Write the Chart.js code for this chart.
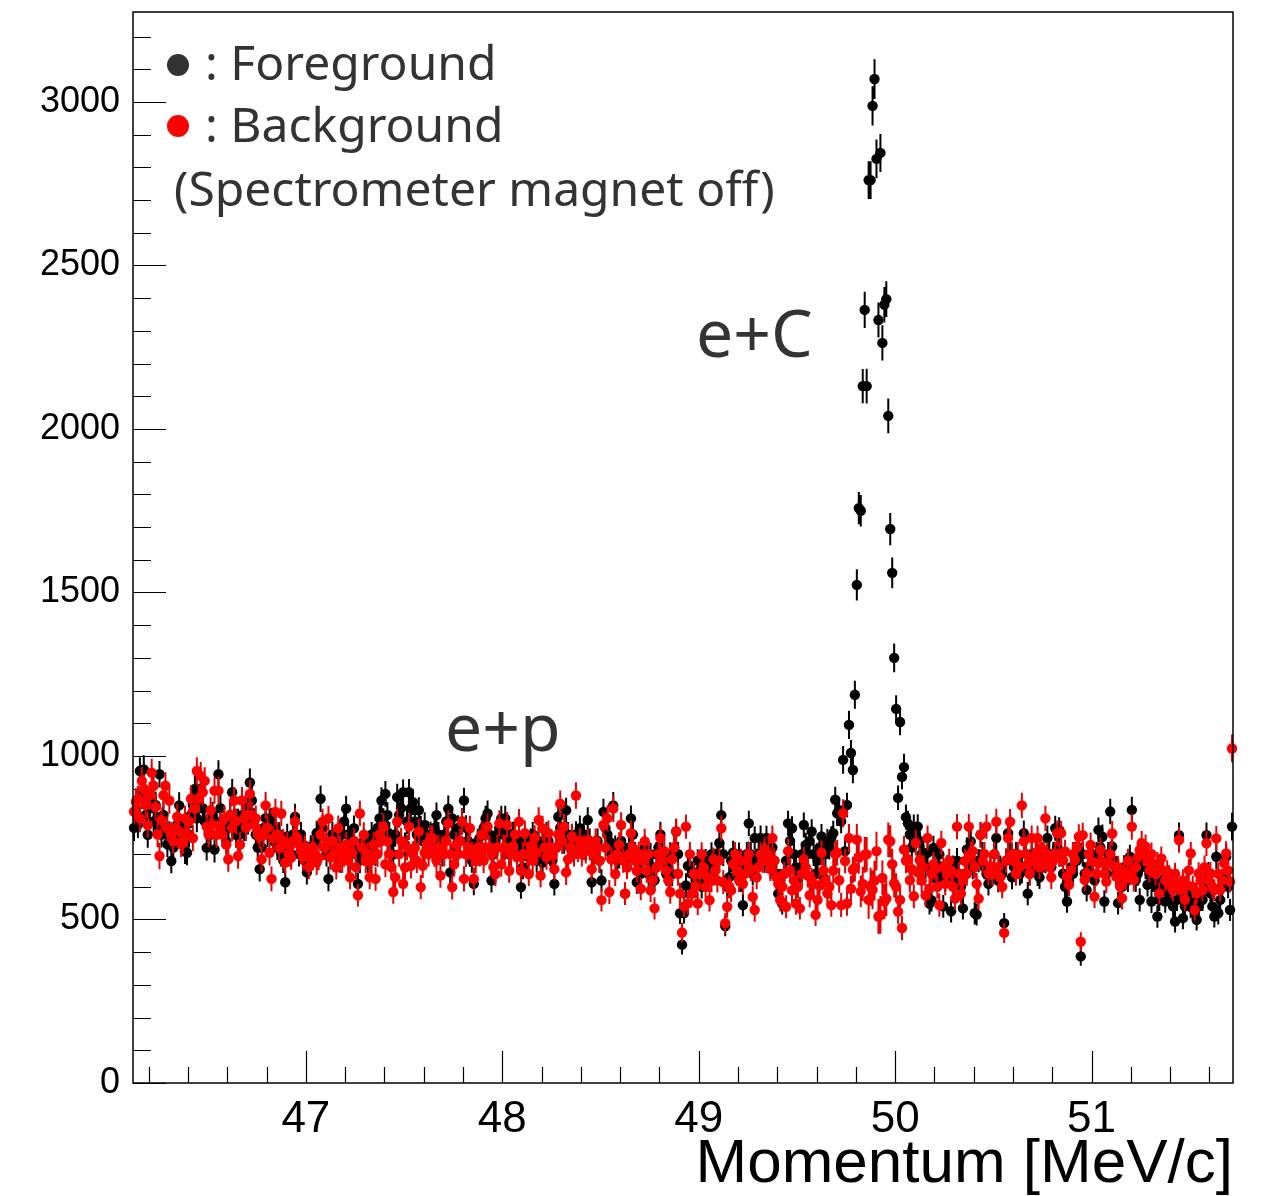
<!DOCTYPE html>
<html>
<head>
<meta charset="utf-8">
<script src="https://cdn.jsdelivr.net/npm/chart.js@4.4.1/dist/chart.umd.min.js"></script>
<style>
  html, body { margin: 0; padding: 0; background: #fff; }
  canvas { display: block; }
</style>
</head>
<body>
<canvas id="momentumChart" width="1264" height="1196"></canvas>
<script>
// histogram binning: 560 bins of 0.01 MeV/c from 46.12 to 51.72
const binLow = 46.12;
const binWidth = 0.01;

// counts per bin, spectrometer magnet off, target in (foreground)
const fgCounts = [
  780,830,790,954,880,959,820,759,840,869,
  800,850,789,944,760,820,780,730,760,679,
  720,760,790,849,780,760,709,704,760,820,
  850,899,809,860,900,840,800,719,780,760,
  820,714,800,944,840,780,760,740,780,820,
  889,800,759,800,760,820,780,840,800,919,
  864,800,760,720,654,720,780,810,760,800,
  804,740,780,720,760,700,680,614,754,720,
  700,760,814,740,700,760,720,680,644,700,
  720,690,740,764,760,869,780,720,700,624,
  700,760,740,700,720,680,760,800,839,760,
  700,740,779,700,609,680,720,740,700,680,
  720,760,740,700,780,809,864,800,884,820,
  760,740,699,760,874,820,840,889,729,800,
  889,840,859,800,760,834,780,740,789,760,
  720,760,740,780,819,760,720,700,760,800,
  839,644,809,760,720,780,740,800,864,780,
  740,700,680,609,720,739,700,760,780,809,
  824,760,619,700,740,760,780,809,760,809,
  760,700,740,760,720,700,740,599,660,720,
  694,700,740,760,720,680,740,700,674,720,
  760,740,700,680,609,720,814,780,760,740,
  834,760,720,740,700,760,740,779,740,760,
  720,804,740,614,700,720,740,680,619,829,
  780,760,739,700,849,720,680,694,740,700,
  579,660,720,809,760,700,614,680,640,700,
  720,680,640,699,660,620,700,720,760,700,
  680,639,660,700,639,720,769,700,519,423,
  520,604,664,664,640,600,620,680,650,600,
  640,680,620,660,700,640,680,700,734,819,
  700,480,600,629,680,704,660,640,699,620,
  544,660,700,794,700,640,749,680,700,749,
  700,680,749,700,660,720,680,640,579,620,
  549,640,680,794,740,779,700,660,620,649,
  700,789,728,700,740,769,700,639,680,720,
  754,629,700,740,720,749,764,866,825,834,
  800,988,709,850,1095,1009,957,1187,1523,1758,
  1750,2131,2364,2131,2761,2761,2988,3070,2826,2333,
  2844,2263,2380,2397,2040,1694,1560,1300,1144,872,
  1104,936,966,813,794,760,720,784,760,784,
  740,700,693,660,704,549,559,719,624,660,
  699,640,540,620,660,640,525,660,624,680,
  640,600,534,640,714,680,739,660,519,515,
  680,759,700,660,640,609,660,640,700,749,
  619,660,640,489,680,764,700,629,660,700,
  680,640,649,764,700,579,640,700,680,660,
  640,629,660,700,680,749,700,660,700,779,
  720,774,700,640,600,555,620,660,640,700,
  680,720,387,700,640,590,660,700,680,620,
  700,774,720,753,555,640,700,830,723,680,
  640,550,620,600,660,640,620,692,835,660,
  620,640,560,680,700,660,606,640,555,620,
  600,509,560,600,620,555,600,580,560,540,
  494,560,758,580,504,540,580,560,539,560,
  520,499,540,580,560,600,758,640,580,540,
  509,692,519,560,600,640,692,600,529,784
];

// counts per bin, background run
const bgCounts = [
  830,860,869,809,924,900,850,789,880,949,
  909,844,760,694,804,880,909,779,864,760,
  739,779,814,770,730,739,809,759,800,869,
  749,839,954,870,939,889,924,784,759,834,
  790,894,759,894,789,760,809,729,684,819,
  780,864,800,694,729,864,809,780,820,884,
  819,790,809,770,754,684,760,849,780,704,
  624,749,829,760,719,824,740,674,729,700,
  689,740,799,750,729,709,690,720,704,660,
  689,720,700,674,689,760,799,720,739,809,
  689,740,700,659,779,720,680,700,729,680,
  629,704,740,660,574,824,720,759,679,700,
  629,680,729,624,700,760,740,784,669,739,
  700,660,584,629,799,700,740,609,659,720,
  784,664,700,719,680,769,599,664,704,730,
  700,749,749,700,680,720,634,719,700,740,
  794,700,599,669,729,700,740,799,624,699,
  720,779,700,624,679,720,700,759,680,720,
  784,720,699,660,639,720,794,669,720,720,
  789,649,700,724,760,690,799,649,700,764,
  700,639,724,680,750,704,804,634,779,720,
  690,764,720,699,654,720,760,854,739,784,
  644,684,720,754,700,879,714,740,700,720,
  709,740,719,654,700,740,719,680,559,789,
  720,809,584,684,839,639,700,729,789,680,
  579,659,700,764,719,680,649,700,594,680,
  739,649,700,589,620,534,659,700,749,680,
  709,649,620,584,684,720,769,640,579,460,
  540,784,549,700,579,640,600,549,639,700,
  659,600,629,559,620,684,650,619,680,779,
  614,489,539,600,589,669,700,649,620,680,
  609,640,679,700,654,569,529,629,660,699,
  680,714,679,700,654,749,680,629,609,559,
  600,640,539,709,650,589,620,549,600,534,
  640,684,660,634,574,620,609,514,560,604,
  704,650,619,580,600,544,649,700,704,620,
  544,825,679,549,749,594,652,659,744,689,
  586,609,698,699,560,600,591,619,709,509,
  514,627,555,564,744,739,669,611,600,524,
  560,474,714,680,684,620,654,571,734,644,
  682,619,660,574,749,594,640,669,654,600,
  544,734,660,609,640,680,649,600,564,784,
  640,579,620,679,640,784,700,709,660,609,
  564,759,680,700,784,640,664,639,700,799,
  660,629,600,459,680,749,799,700,679,640,
  700,660,849,739,700,669,640,749,680,700,
  749,660,719,680,809,700,660,629,680,700,
  764,700,764,680,708,631,606,650,700,682,
  720,753,432,758,621,641,700,728,677,570,
  640,672,713,677,640,616,672,700,763,662,
  631,660,601,565,640,626,680,641,784,621,
  660,690,713,733,700,723,677,650,700,662,
  640,672,580,687,650,620,646,631,600,590,
  640,610,743,590,620,560,606,650,702,600,
  529,580,641,620,590,660,733,620,641,600,
  590,748,640,590,620,672,702,650,616,1023
];

// axis ticks
const xMajorTicks = [47, 48, 49, 50, 51];
const yMajorTicks = [0, 500, 1000, 1500, 2000, 2500, 3000];
const xRange = [46.12, 51.72];
const yRange = [0, 3275];

const binCenter = i => binLow + binWidth * (i + 0.5);
const toPoints = counts => counts.map((c, i) => ({ x: binCenter(i), y: c }));

const labelFont = 'Liberation Sans, Arial, Helvetica, sans-serif';
const textFont = '"Noto Sans", "Open Sans", sans-serif';

// vertical error bars: sqrt(fg + bg) per bin, drawn just under each dataset's markers
const errorBars = {
  id: 'errorBars',
  beforeDatasetDraw(chart, args) {
    const { ctx, scales: { y } } = chart;
    const ds = chart.data.datasets[args.index];
    ctx.save();
    ctx.strokeStyle = ds.barColor;
    ctx.lineWidth = 2;
    ctx.beginPath();
    args.meta.data.forEach((pt, i) => {
      const v = ds.data[i].y;
      const err = Math.sqrt(fgCounts[i] + bgCounts[i]);
      ctx.moveTo(pt.x, y.getPixelForValue(v + err));
      ctx.lineTo(pt.x, y.getPixelForValue(v - err));
    });
    ctx.stroke();
    ctx.restore();
  }
};

// ROOT style frame with inward ticks
const rootFrame = {
  id: 'rootFrame',
  beforeDatasetsDraw(chart) {
    const { ctx, chartArea: a, scales: { x, y } } = chart;
    ctx.save();
    ctx.strokeStyle = '#000';
    ctx.lineWidth = 1.2;
    ctx.beginPath();
    for (let k = Math.ceil(xRange[0] * 5); k <= Math.floor(xRange[1] * 5); k++) {
      const v = k / 5;
      const px = Math.round(x.getPixelForValue(v)) + 0.5;
      const len = Math.abs(v - Math.round(v)) < 1e-6 ? 32 : 16;
      ctx.moveTo(px, a.bottom);
      ctx.lineTo(px, a.bottom - len);
    }
    for (let v = 0; v <= yRange[1]; v += 100) {
      const py = Math.round(y.getPixelForValue(v)) + 0.5;
      const len = v % 500 === 0 ? 33 : 18;
      ctx.moveTo(a.left, py);
      ctx.lineTo(a.left + len, py);
    }
    ctx.stroke();
    ctx.restore();
  },
  afterDatasetsDraw(chart) {
    const { ctx, chartArea: a } = chart;
    ctx.save();
    ctx.strokeStyle = '#000';
    ctx.lineWidth = 1.5;
    ctx.strokeRect(a.left, a.top, a.right - a.left, a.bottom - a.top);
    ctx.restore();
  },
  afterDraw(chart) {
    const { ctx, chartArea: a } = chart;
    ctx.save();
    ctx.textBaseline = 'alphabetic';
    ctx.textAlign = 'left';
    // legend
    ctx.fillStyle = '#333';
    ctx.beginPath();
    ctx.arc(a.left + 45, a.top + 53, 11, 0, Math.PI * 2);
    ctx.fill();
    ctx.fillStyle = '#ff0000';
    ctx.beginPath();
    ctx.arc(a.left + 45, a.top + 114, 11, 0, Math.PI * 2);
    ctx.fill();
    ctx.fillStyle = '#333';
    ctx.font = '48px ' + textFont;
    ctx.fillText(': Foreground', a.left + 72, a.top + 68);
    ctx.fillText(': Background', a.left + 72, a.top + 130);
    ctx.fillText('(Spectrometer magnet off)', a.left + 41, a.top + 194);
    // peak labels
    ctx.font = '66px ' + textFont;
    ctx.fillText('e+C', a.left + 563, a.top + 345);
    ctx.fillText('e+p', a.left + 312, a.top + 739);
    ctx.restore();
  }
};

const ctx = document.getElementById('momentumChart').getContext('2d');
new Chart(ctx, {
  type: 'scatter',
  data: {
    datasets: [
      {
        label: 'Background',
        data: toPoints(bgCounts),
        backgroundColor: '#ff0000',
        barColor: '#e60000',
        pointRadius: 5.2,
        borderWidth: 0,
        clip: false,
        order: 1
      },
      {
        label: 'Foreground',
        data: toPoints(fgCounts),
        backgroundColor: '#000000',
        barColor: '#000000',
        pointRadius: 5.2,
        borderWidth: 0,
        clip: false,
        order: 2
      }
    ]
  },
  options: {
    responsive: false,
    animation: false,
    devicePixelRatio: 1,
    layout: { padding: { top: 12, right: 31, left: 0, bottom: 0 } },
    plugins: { legend: { display: false }, tooltip: { enabled: false } },
    elements: { point: { hoverRadius: 5.2 } },
    scales: {
      x: {
        type: 'linear',
        min: xRange[0],
        max: xRange[1],
        afterBuildTicks: s => { s.ticks = xMajorTicks.map(v => ({ value: v })); },
        afterFit: s => { s.height = 113; s.paddingLeft = 0; s.paddingRight = 0; },
        grid: { display: false, drawTicks: false },
        border: { display: false },
        ticks: {
          color: '#000',
          padding: 10,
          maxRotation: 0,
          autoSkip: false,
          font: { family: labelFont, size: 44 },
          callback: v => String(v)
        },
        title: {
          display: true,
          text: 'Momentum [MeV/c]',
          align: 'end',
          color: '#000',
          padding: { top: 0, bottom: 0 },
          font: { family: labelFont, size: 62, lineHeight: 1 }
        }
      },
      y: {
        min: yRange[0],
        max: yRange[1],
        afterBuildTicks: s => { s.ticks = yMajorTicks.map(v => ({ value: v })); },
        afterFit: s => { s.width = 133; s.paddingTop = 0; s.paddingBottom = 0; },
        grid: { display: false, drawTicks: false },
        border: { display: false },
        ticks: {
          color: '#000',
          padding: 13,
          autoSkip: false,
          font: { family: labelFont, size: 36 },
          callback: v => String(v)
        }
      }
    }
  },
  plugins: [errorBars, rootFrame]
});
</script>
</body>
</html>
